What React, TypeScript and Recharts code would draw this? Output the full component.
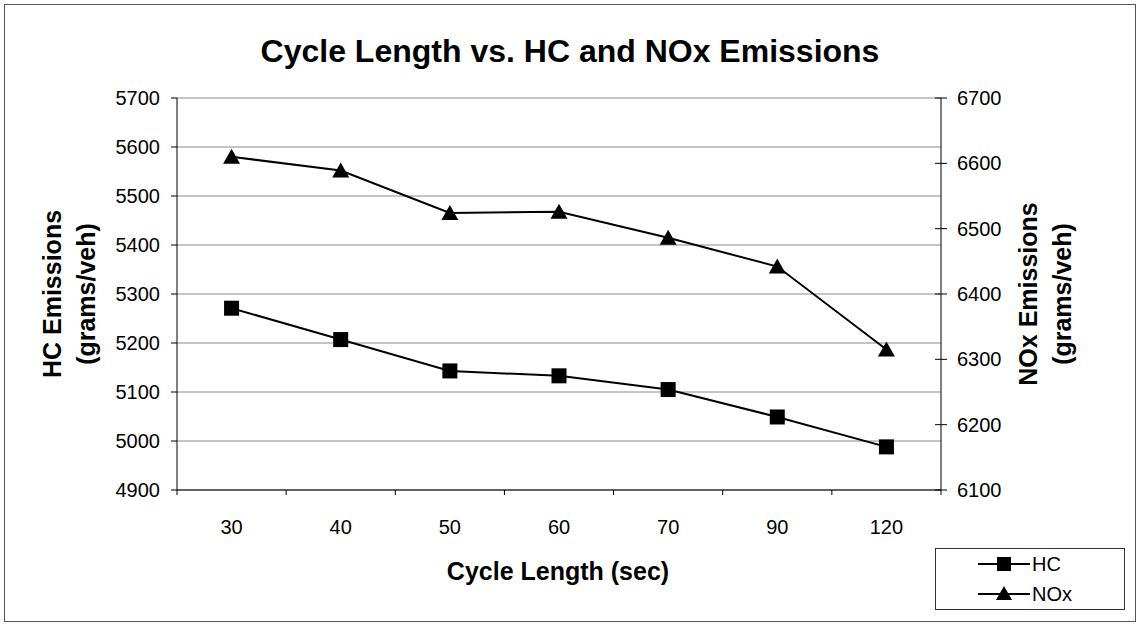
import React from 'react';
import { LineChart, Line, XAxis, YAxis, CartesianGrid, Legend } from 'recharts';

const cycleLengths = ['30', '40', '50', '60', '70', '90', '120'];
const hcValues = [5271, 5207, 5143, 5133, 5105, 5049, 4988];
const noxValues = [6610, 6589, 6524, 6526, 6486, 6442, 6315];
const hcTicks = [4900, 5000, 5100, 5200, 5300, 5400, 5500, 5600, 5700];
const noxTicks = [6100, 6200, 6300, 6400, 6500, 6600, 6700];

const data = cycleLengths.map((c, i) => ({ cycle: c, HC: hcValues[i], NOx: noxValues[i] }));

const W = 1139;
const H = 625;
const PLOT = { left: 177, right: 941, top: 98, bottom: 490 };
const Y_W = 100;
const X_H = 40;
const plotWidth = PLOT.right - PLOT.left;
const band = plotWidth / cycleLengths.length;
const FONT = '"Liberation Sans", Arial, Helvetica, sans-serif';
const X_TICK_SIZE = 5;
const X_TICK_MARGIN = 25;
const R_TICK_SIZE = 6;
const R_TICK_MARGIN = 10;

const SquareDot = (p: any) => (
  <rect key={`sq-${p.index}`} x={p.cx - 7.5} y={p.cy - 7.5} width={15} height={15} fill="#000" />
);
const TriangleDot = (p: any) => (
  <polygon
    key={`tr-${p.index}`}
    points={`${p.cx},${p.cy - 8} ${p.cx + 8.5},${p.cy + 7} ${p.cx - 8.5},${p.cy + 7}`}
    fill="#000"
  />
);

const XTick = (props: any) => {
  const { x, y, payload, index } = props;
  const axisY = y - X_TICK_SIZE - X_TICK_MARGIN;
  return (
    <g>
      <line x1={x + band / 2} x2={x + band / 2} y1={axisY} y2={axisY + 5} stroke="#000" />
      {index === 0 && <line x1={x - band / 2} x2={x - band / 2} y1={axisY} y2={axisY + 5} stroke="#000" />}
      <text x={x} y={y} dy="0.71em" textAnchor="middle" fill="#000" fontSize={20} fontFamily={FONT}>
        {payload.value}
      </text>
    </g>
  );
};

const RightTick = (props: any) => {
  const { x, y, payload } = props;
  const ax = x - R_TICK_SIZE - R_TICK_MARGIN;
  return (
    <g>
      <line x1={ax - 6} x2={ax + 6} y1={y} y2={y} stroke="#000" />
      <text x={x} y={y} dy="0.355em" textAnchor="start" fill="#000" fontSize={20} fontFamily={FONT}>
        {payload.value}
      </text>
    </g>
  );
};

const LegendBox = (props: any) => {
  const payload = props.payload || [];
  return (
    <svg width={190} height={62} style={{ display: 'block' }}>
      <rect x={0.5} y={0.5} width={189} height={61} fill="#fff" stroke="#333" strokeWidth={1} />
      {payload.map((entry: any, i: number) => {
        const cy = 16 + i * 30;
        const cx = 69;
        return (
          <g key={entry.value}>
            <line x1={43} x2={95} y1={cy} y2={cy} stroke="#000" strokeWidth={2} />
            {entry.dataKey === 'HC' ? (
              <rect x={cx - 7} y={cy - 7} width={14} height={14} fill="#000" />
            ) : (
              <polygon points={`${cx},${cy - 8} ${cx + 8},${cy + 6} ${cx - 8},${cy + 6}`} fill="#000" />
            )}
            <text x={97} y={cy} dy="0.355em" fontSize={20} fontFamily={FONT} fill="#000">
              {entry.value}
            </text>
          </g>
        );
      })}
    </svg>
  );
};

export default function App() {
  return (
    <div style={{ position: 'absolute', left: 0, top: 0, width: W, height: H, background: '#fff' }}>
      <LineChart
        width={W}
        height={H}
        data={data}
        margin={{ top: PLOT.top, right: W - PLOT.right - Y_W, bottom: H - PLOT.bottom - X_H, left: PLOT.left - Y_W }}
      >
        <CartesianGrid horizontal vertical={false} stroke="#8a8a8a" yAxisId="left" />
        <XAxis
          dataKey="cycle"
          type="category"
          height={X_H}
          padding={{ left: band / 2, right: band / 2 }}
          axisLine={{ stroke: '#000' }}
          tickLine={false}
          tickSize={X_TICK_SIZE}
          tickMargin={X_TICK_MARGIN}
          tick={<XTick />}
          interval={0}
        />
        <YAxis
          yAxisId="left"
          orientation="left"
          width={Y_W}
          domain={[4900, 5700]}
          ticks={hcTicks}
          allowDataOverflow
          axisLine={{ stroke: '#000' }}
          tickLine={{ stroke: '#000' }}
          tickSize={6}
          tickMargin={11}
          tick={{ fill: '#000', fontSize: 20, fontFamily: FONT }}
        />
        <YAxis
          yAxisId="right"
          orientation="right"
          width={Y_W}
          domain={[6100, 6700]}
          ticks={noxTicks}
          allowDataOverflow
          axisLine={{ stroke: '#000' }}
          tickLine={false}
          tickSize={R_TICK_SIZE}
          tickMargin={R_TICK_MARGIN}
          tick={<RightTick />}
        />
        <Legend
          layout="horizontal"
          verticalAlign="middle"
          align="center"
          wrapperStyle={{ left: 935, top: 548, width: 190, height: 62 }}
          content={<LegendBox />}
        />
        <Line
          yAxisId="left"
          dataKey="HC"
          name="HC"
          stroke="#000"
          strokeWidth={2}
          dot={SquareDot}
          activeDot={false}
          isAnimationActive={false}
        />
        <Line
          yAxisId="right"
          dataKey="NOx"
          name="NOx"
          stroke="#000"
          strokeWidth={2}
          dot={TriangleDot}
          activeDot={false}
          isAnimationActive={false}
        />
      </LineChart>
      <svg
        width={W}
        height={H}
        style={{ position: 'absolute', left: 0, top: 0, pointerEvents: 'none' }}
      >
        <rect x={4.5} y={4.5} width={W - 8} height={H - 8} fill="none" stroke="#555" strokeWidth={1} />
        <text x={570} y={62} textAnchor="middle" fontSize={32} fontWeight="bold" fontFamily={FONT} fill="#000">
          Cycle Length vs. HC and NOx Emissions
        </text>
        <text x={558} y={580} textAnchor="middle" fontSize={25} fontWeight="bold" fontFamily={FONT} fill="#000">
          Cycle Length (sec)
        </text>
        <g transform={`translate(52, ${(PLOT.top + PLOT.bottom) / 2}) rotate(-90)`}>
          <text x={0} y={0} textAnchor="middle" dominantBaseline="central" fontSize={25} fontWeight="bold" fontFamily={FONT} fill="#000">
            HC Emissions
          </text>
        </g>
        <g transform={`translate(86, ${(PLOT.top + PLOT.bottom) / 2}) rotate(-90)`}>
          <text x={0} y={0} textAnchor="middle" dominantBaseline="central" fontSize={25} fontWeight="bold" fontFamily={FONT} fill="#000">
            (grams/veh)
          </text>
        </g>
        <g transform={`translate(1028, ${(PLOT.top + PLOT.bottom) / 2}) rotate(-90)`}>
          <text x={0} y={0} textAnchor="middle" dominantBaseline="central" fontSize={25} fontWeight="bold" fontFamily={FONT} fill="#000">
            NOx Emissions
          </text>
        </g>
        <g transform={`translate(1062, ${(PLOT.top + PLOT.bottom) / 2}) rotate(-90)`}>
          <text x={0} y={0} textAnchor="middle" dominantBaseline="central" fontSize={25} fontWeight="bold" fontFamily={FONT} fill="#000">
            (grams/veh)
          </text>
        </g>
      </svg>
    </div>
  );
}
